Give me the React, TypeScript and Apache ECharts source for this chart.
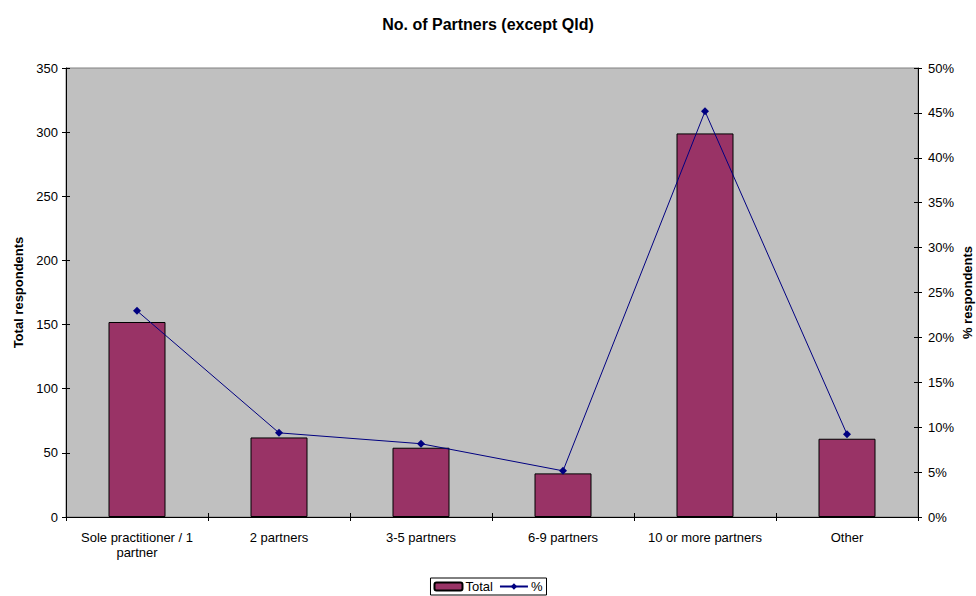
import React, { useEffect, useRef } from "react";
import * as echarts from "echarts";

const categories = [
  "Sole practitioner / 1\npartner",
  "2 partners",
  "3-5 partners",
  "6-9 partners",
  "10 or more partners",
  "Other",
];
const totals = [152, 62, 54, 34, 299, 61];
const percents = [22.96, 9.37, 8.16, 5.14, 45.17, 9.21];

const FONT = "'Liberation Sans', Arial, sans-serif";

export default function App() {
  const ref = useRef<HTMLDivElement>(null);

  useEffect(() => {
    if (!ref.current) return;
    const chart = echarts.init(ref.current, undefined, { renderer: "svg" });
    const tickStyle = { color: "#000", width: 1 };
    const grid = { left: 66, right: 58, top: 68, bottom: 79 };
    chart.setOption({
      animation: false,
      backgroundColor: "#fff",
      textStyle: { fontFamily: FONT },
      title: {
        text: "No. of Partners (except Qld)",
        left: "center",
        top: 11,
        textStyle: { fontFamily: FONT, fontSize: 16, fontWeight: "bold", color: "#000" },
      },
      legend: {
        bottom: 1,
        left: "center",
        data: ["Total", "%"],
        borderColor: "#000",
        borderWidth: 1,
        backgroundColor: "#fff",
        padding: [2, 4, 2, 3],
        itemGap: 6,
        itemWidth: 28,
        itemHeight: 8,
        borderRadius: 0,
        textStyle: { fontFamily: FONT, fontSize: 13, color: "#000", padding: [0, 0, 0, -2] },
      },
      grid: {
        ...grid,
        containLabel: false,
        outerBoundsMode: "none",
        show: true,
        backgroundColor: "#c0c0c0",
        borderColor: "#808080",
        borderWidth: 1,
      },
      xAxis: [
        {
          type: "category",
          data: categories,
          axisLine: { lineStyle: { color: "#000" } },
          axisTick: { show: true, alignWithLabel: false, length: 4, lineStyle: tickStyle },
          axisLabel: { color: "#000", fontSize: 13, fontFamily: FONT, margin: 13, lineHeight: 15, interval: 0 },
        },
        {
          type: "category",
          data: categories,
          position: "bottom",
          axisLine: { show: false },
          axisTick: { show: true, inside: true, length: 4, lineStyle: tickStyle },
          axisLabel: { show: false },
        },
      ],
      yAxis: [
        {
          type: "value",
          min: 0,
          max: 350,
          interval: 50,
          position: "left",
          name: "Total respondents",
          nameLocation: "middle",
          nameGap: 41,
          nameRotate: 90,
          nameMoveOverlap: false,
          nameTextStyle: { fontFamily: FONT, fontSize: 13, fontWeight: "bold", color: "#000" },
          splitLine: { show: false },
          axisLine: { show: true, lineStyle: { color: "#000" } },
          axisTick: { show: true, length: 4, lineStyle: tickStyle },
          axisLabel: { color: "#000", fontSize: 13, fontFamily: FONT, margin: 8 },
        },
        {
          type: "value",
          min: 0,
          max: 50,
          interval: 5,
          position: "right",
          name: "% respondents",
          nameLocation: "middle",
          nameGap: 43,
          nameRotate: 90,
          nameMoveOverlap: false,
          nameTextStyle: { fontFamily: FONT, fontSize: 13, fontWeight: "bold", color: "#000" },
          splitLine: { show: false },
          axisLine: { show: true, lineStyle: { color: "#000" } },
          axisTick: { show: true, length: 4, lineStyle: tickStyle },
          axisLabel: { color: "#000", fontSize: 13, fontFamily: FONT, margin: 10, formatter: "{value}%" },
        },
        {
          type: "value",
          min: 0,
          max: 350,
          interval: 50,
          position: "left",
          splitLine: { show: false },
          axisLine: { show: false },
          axisTick: { show: true, inside: true, length: 4, lineStyle: tickStyle },
          axisLabel: { show: false },
        },
        {
          type: "value",
          min: 0,
          max: 50,
          interval: 5,
          position: "right",
          splitLine: { show: false },
          axisLine: { show: false },
          axisTick: { show: true, inside: true, length: 4, lineStyle: tickStyle },
          axisLabel: { show: false },
        },
      ],
      series: [
        {
          name: "Total",
          type: "bar",
          data: totals,
          xAxisIndex: 0,
          yAxisIndex: 0,
          barWidth: 57,
          itemStyle: { color: "#993366", borderColor: "#000", borderWidth: 1 },
        },
        {
          name: "%",
          type: "line",
          data: percents,
          xAxisIndex: 0,
          yAxisIndex: 1,
          symbol: "diamond",
          symbolSize: 8,
          lineStyle: { color: "#000080", width: 1 },
          itemStyle: { color: "#000080" },
        },
      ],
    });
    return () => chart.dispose();
  }, []);

  return (
    <div
      ref={ref}
      style={{ position: "fixed", left: 0, top: 0, width: 976, height: 596 }}
    />
  );
}
